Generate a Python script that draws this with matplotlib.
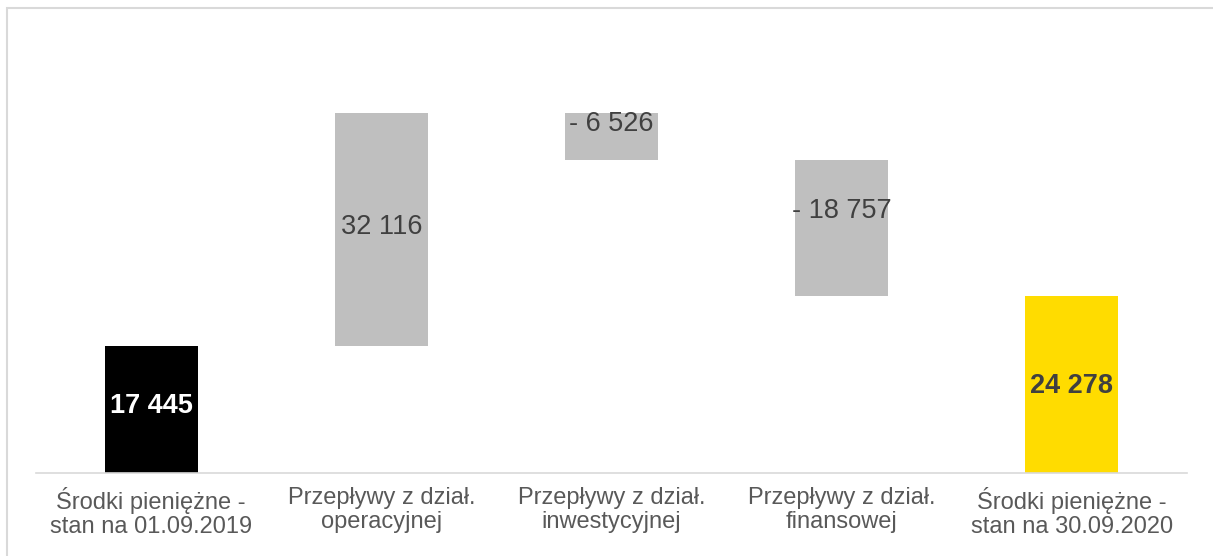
import numpy as np
import matplotlib.pyplot as plt
from matplotlib.patches import Rectangle

categories = ['Środki pieniężne -\nstan na 01.09.2019', 'Przepływy z dział.\noperacyjnej',
              'Przepływy z dział.\ninwestycyjnej', 'Przepływy z dział.\nfinansowej',
              'Środki pieniężne -\nstan na 30.09.2020']
changes = [17445, 32116, -6526, -18757, 24278]
is_total = [True, False, False, False, True]
label_texts = ['17 445', '32 116', '- 6 526', '- 18 757', '24 278']
# where each label sits (value units)
label_y = [9200, 33800, 47950, 36000, 11960]

colors = ['#000000', '#BFBFBF', '#BFBFBF', '#BFBFBF', '#FFDC00']
label_colors = ['white', '#404040', '#404040', '#404040', '#404040']
label_weights = ['bold', 'normal', 'normal', 'normal', 'bold']

plt.rcParams['font.family'] = ['Liberation Sans', 'DejaVu Sans']

W, H = 1213, 556
fig = plt.figure(figsize=(W / 100, H / 100), dpi=100)
ax = fig.add_axes([36 / W, (H - 473) / H, 1151 / W, 436.4 / H])

# waterfall bases
bottoms = []
running = 0
for c, tot in zip(changes, is_total):
    if tot:
        bottoms.append(0)
        running = c
    else:
        if c >= 0:
            bottoms.append(running)
        else:
            bottoms.append(running + c)
        running += c
heights = [abs(c) for c in changes]

x = np.arange(len(categories))
ax.bar(x, heights, bottom=bottoms, width=0.404, color=colors, zorder=2)

for i in range(len(x)):
    ax.text(x[i], label_y[i], label_texts[i], ha='center', va='center', fontsize=19.5,
            color=label_colors[i], fontweight=label_weights[i], zorder=3)

ax.set_xlim(-0.5, 4.5)
ax.set_ylim(0, 60000)
ax.set_yticks([])
ax.set_xticks(x)
ax.set_xticklabels(categories, fontsize=17, color='#595959', linespacing=1.15)
ax.tick_params(axis='x', length=0, pad=10)
for s in ['top', 'right', 'left']:
    ax.spines[s].set_visible(False)
ax.spines['bottom'].set_color('#D9D9D9')
ax.spines['bottom'].set_linewidth(1.2)

# outer chart frame (cut off at right and bottom)
fig.patches.append(Rectangle((6.5 / W, -0.1), 1.2, (H - 7.5) / H + 0.1, transform=fig.transFigure,
                             fill=False, edgecolor='#D9D9D9', linewidth=1.5))

fig.savefig('out.png', dpi=100)
